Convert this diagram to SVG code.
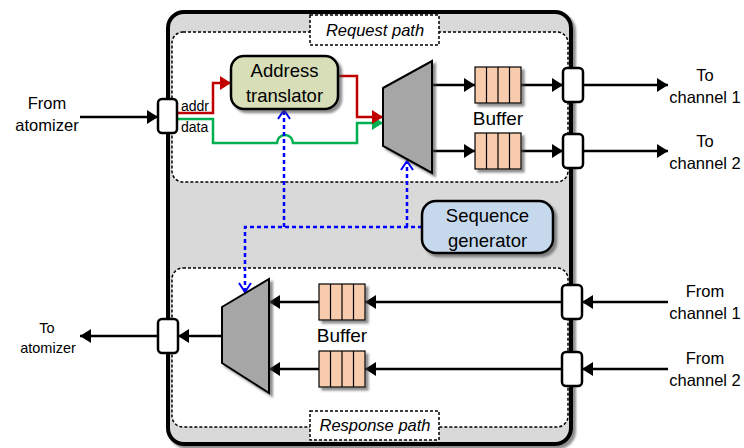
<svg xmlns="http://www.w3.org/2000/svg" width="744" height="448" viewBox="0 0 744 448">
<defs>
<filter id="sh" x="-20%" y="-20%" width="140%" height="140%"><feDropShadow dx="3" dy="3" stdDeviation="1" flood-color="#444" flood-opacity="0.6"/></filter>
<marker id="ab" markerUnits="userSpaceOnUse" markerWidth="11" markerHeight="14" refX="11" refY="7" orient="auto"><path d="M0,0 L11,7 L0,14 z" fill="#000"/></marker>
<marker id="ar" markerUnits="userSpaceOnUse" markerWidth="11" markerHeight="14" refX="11" refY="7" orient="auto"><path d="M0,0 L11,7 L0,14 z" fill="#c00000"/></marker>
<marker id="ag" markerUnits="userSpaceOnUse" markerWidth="11" markerHeight="14" refX="11" refY="7" orient="auto"><path d="M0,0 L11,7 L0,14 z" fill="#00b050"/></marker>
<marker id="av" markerUnits="userSpaceOnUse" markerWidth="12" markerHeight="14" refX="10" refY="7" orient="auto"><path d="M1,1 L10,7 L1,13" fill="none" stroke="#0000ff" stroke-width="2"/></marker>
<style>
.t{font-family:"Liberation Sans",Arial,sans-serif;fill:#000;text-anchor:middle}
.it{font-style:italic;font-size:16.5px}
.dash{fill:#fff;stroke:#000;stroke-width:1.5;stroke-dasharray:3,2}
.port{fill:#fff;stroke:#000;stroke-width:2.5}
.buf{fill:#f8cbad;stroke:#000;stroke-width:1.2}
.mux{fill:#a6a6a6;stroke:#000;stroke-width:2;filter:url(#sh)}
.bl{fill:none;stroke:#000;stroke-width:2.5}
.blue{fill:none;stroke:#0000ff;stroke-width:2.5;stroke-dasharray:4,3}
</style>
</defs>
<g id="outer"><rect x="168" y="12" width="403" height="432" rx="16" fill="#d9d9d9" stroke="#000" stroke-width="4" filter="url(#sh)"/></g>
<g id="request-path"><rect class="dash" x="172" y="32" width="396" height="150" rx="11"/><rect class="dash" x="310" y="15" width="129" height="30"/><text class="t it" x="375" y="36">Request path</text></g>
<g id="response-path"><rect class="dash" x="172" y="268" width="396" height="159" rx="11"/><rect class="dash" x="310" y="411" width="129" height="29"/><text class="t it" x="375" y="431">Response path</text></g>
<g id="connectors">
<path class="bl" d="M80,117 H158" marker-end="url(#ab)"/>
<path d="M177,113 H213 V83 H231" fill="none" stroke="#c00000" stroke-width="2.5" marker-end="url(#ar)"/>
<path d="M177,119 H213 V143 H277 A8,8 0 0 1 293,143 H357 V123 H383" fill="none" stroke="#00b050" stroke-width="2.5" marker-end="url(#ag)"/>
<path d="M338,76 H357 V117 H383" fill="none" stroke="#c00000" stroke-width="2.5" marker-end="url(#ar)"/>
<path class="bl" d="M432,85 H475" marker-end="url(#ab)"/>
<path class="bl" d="M432,151 H475" marker-end="url(#ab)"/>
<path class="bl" d="M521,85 H563" marker-end="url(#ab)"/>
<path class="bl" d="M521,151 H563" marker-end="url(#ab)"/>
<path class="bl" d="M583,85 H668" marker-end="url(#ab)"/>
<path class="bl" d="M583,151 H668" marker-end="url(#ab)"/>
<path class="blue" d="M284,227 V110" marker-end="url(#av)"/>
<path class="blue" d="M407,227 V161" marker-end="url(#av)"/>
<path class="blue" d="M422,227 H245 V292" marker-end="url(#av)"/>
<path class="bl" d="M668,302 H582" marker-end="url(#ab)"/>
<path class="bl" d="M668,369 H582" marker-end="url(#ab)"/>
<path class="bl" d="M562,302 H365" marker-end="url(#ab)"/>
<path class="bl" d="M562,369 H365" marker-end="url(#ab)"/>
<path class="bl" d="M319,302 H269" marker-end="url(#ab)"/>
<path class="bl" d="M319,369 H269" marker-end="url(#ab)"/>
<path class="bl" d="M222,336 H178" marker-end="url(#ab)"/>
<path class="bl" d="M158,336 H80" marker-end="url(#ab)"/>
</g>
<g id="address-translator"><rect x="231" y="56" width="107" height="53" rx="13" fill="#d7deb8" stroke="#000" stroke-width="2.5" filter="url(#sh)"/><text class="t" x="284.5" y="77" font-size="18.5">Address</text><text class="t" x="284.5" y="102" font-size="18.5">translator</text></g>
<g id="mux-request"><polygon class="mux" points="383,88 432,61 432,173 383,146"/></g>
<g id="buffer-req-1"><rect class="buf" x="475" y="67" width="46" height="36" filter="url(#sh)"/><path d="M486.5,67 V103 M498,67 V103 M509.5,67 V103" stroke="#000" stroke-width="1.2"/></g>
<g id="buffer-req-2"><rect class="buf" x="475" y="133" width="46" height="36" filter="url(#sh)"/><path d="M486.5,133 V169 M498,133 V169 M509.5,133 V169" stroke="#000" stroke-width="1.2"/></g>
<text class="t" x="498" y="125" font-size="19">Buffer</text>
<g id="sequence-generator"><rect x="422" y="201" width="131" height="52" rx="14" fill="#c6d9ec" stroke="#000" stroke-width="2.5" filter="url(#sh)"/><text class="t" x="487.5" y="222" font-size="18.5">Sequence</text><text class="t" x="487.5" y="247" font-size="18.5">generator</text></g>
<g id="mux-response"><polygon class="mux" points="222,307 269,279 269,393 222,363"/></g>
<g id="buffer-resp-1"><rect class="buf" x="319" y="284" width="46" height="36" filter="url(#sh)"/><path d="M330.5,284 V320 M342,284 V320 M353.5,284 V320" stroke="#000" stroke-width="1.2"/></g>
<g id="buffer-resp-2"><rect class="buf" x="319" y="351" width="46" height="36" filter="url(#sh)"/><path d="M330.5,351 V387 M342,351 V387 M353.5,351 V387" stroke="#000" stroke-width="1.2"/></g>
<text class="t" x="342" y="342" font-size="19">Buffer</text>
<g id="port-in"><rect class="port" x="158" y="99" width="19" height="34" rx="4"/></g>
<g id="port-out"><rect class="port" x="158" y="319" width="20" height="34" rx="4"/></g>
<g id="port-ch1-out"><rect class="port" x="563" y="68" width="20" height="34" rx="4"/></g>
<g id="port-ch2-out"><rect class="port" x="563" y="134" width="20" height="34" rx="4"/></g>
<g id="port-ch1-in"><rect class="port" x="562" y="285" width="20" height="34" rx="4"/></g>
<g id="port-ch2-in"><rect class="port" x="562" y="352" width="20" height="34" rx="4"/></g>
<g id="labels">
<text class="t" x="181" y="111" font-size="14" text-anchor="start" style="text-anchor:start">addr</text>
<text class="t" x="181" y="132" font-size="14" style="text-anchor:start">data</text>
<text class="t" x="47" y="109" font-size="16.5">From</text>
<text class="t" x="47" y="131" font-size="16.5">atomizer</text>
<text class="t" x="47" y="333" font-size="14.5">To</text>
<text class="t" x="48" y="353" font-size="14.5">atomizer</text>
<text class="t" x="705" y="81" font-size="16.5">To</text>
<text class="t" x="705" y="103" font-size="16.5">channel 1</text>
<text class="t" x="705" y="147" font-size="16.5">To</text>
<text class="t" x="705" y="169" font-size="16.5">channel 2</text>
<text class="t" x="705" y="297" font-size="16.5">From</text>
<text class="t" x="705" y="319" font-size="16.5">channel 1</text>
<text class="t" x="705" y="364" font-size="16.5">From</text>
<text class="t" x="705" y="386" font-size="16.5">channel 2</text>
</g>
</svg>
